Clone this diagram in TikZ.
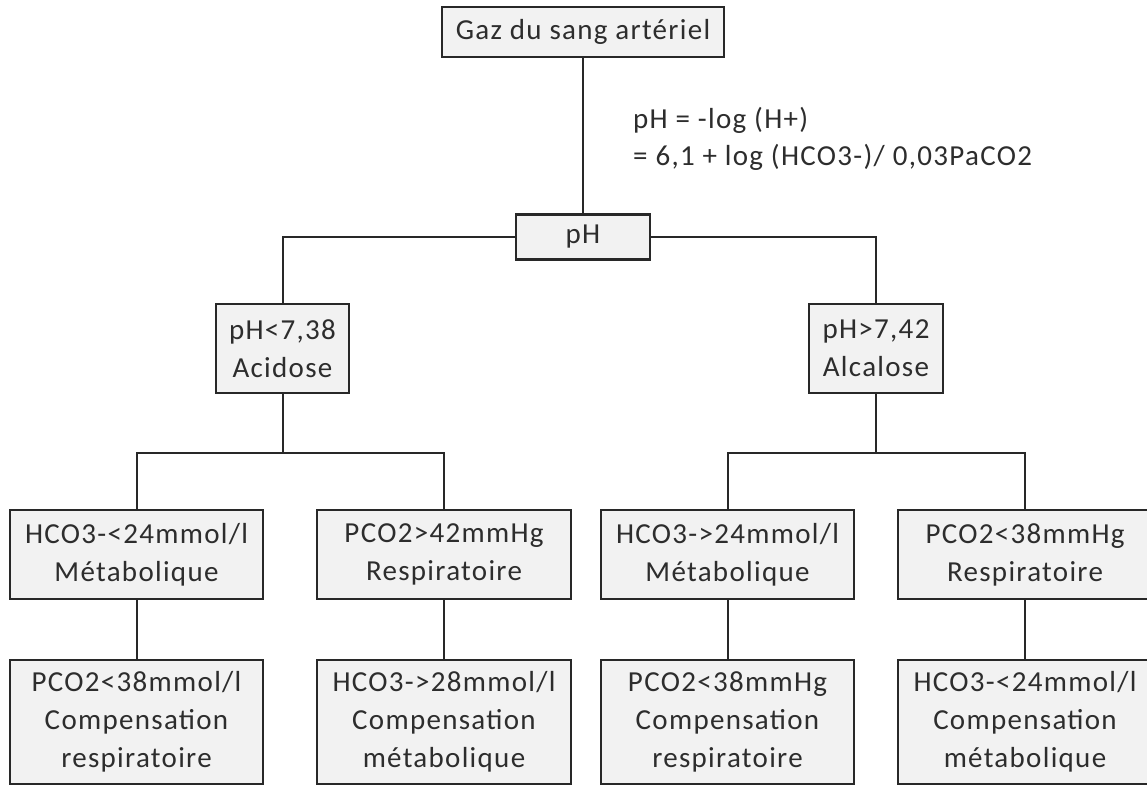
\documentclass[tikz,border=0pt]{standalone}
\usepackage{fontspec}
\setmainfont{Carlito}[LetterSpace=4.5]
\definecolor{boxfill}{RGB}{242,242,242}
\definecolor{ink}{RGB}{45,45,45}
\definecolor{edge}{RGB}{40,40,40}
\tikzset{
  box/.style={draw=edge, line width=2.2pt, fill=boxfill, text=ink, inner sep=0pt,
    align=center, font=\fontsize{29}{38}\selectfont},
  link/.style={draw=edge, line width=2pt},
  note/.style={text=ink, inner sep=0pt, align=left, anchor=west,
    font=\fontsize{29}{37}\selectfont}
}
\begin{document}
\begin{tikzpicture}[x=1pt,y=-1pt]
\useasboundingbox (0,0) rectangle (1147,787);

% root and pH
\node[box, minimum width=282pt, minimum height=50pt] (gaz) at (583,32) {Gaz du sang artériel};
\node[box, minimum width=134pt, minimum height=45pt] (ph) at (583,237) {pH};
\node[note] (formule) at (633,139) {pH = -log (H+)\\= 6,1 + log (HCO3-)/ 0,03PaCO2};

% acidose / alcalose
\node[box, minimum width=133pt, minimum height=89pt] (acid) at (282.5,348.5) {pH<7,38\\Acidose};
\node[box, minimum width=134pt, minimum height=89pt] (alc) at (876,348.5) {pH>7,42\\Alcalose};

% type of disorder
\node[box, minimum width=253pt, minimum height=89pt] (b1) at (136.5,554.5) {HCO3-<24mmol/l\\Métabolique};
\node[box, minimum width=254pt, minimum height=89pt] (b2) at (444,554.5) {PCO2>42mmHg\\Respiratoire};
\node[box, minimum width=253pt, minimum height=89pt] (b3) at (727.5,554.5) {HCO3->24mmol/l\\Métabolique};
\node[box, minimum width=254pt, minimum height=89pt] (b4) at (1025,554.5) {PCO2<38mmHg\\Respiratoire};

% compensation
\node[box, minimum width=253pt, minimum height=124pt] (c1) at (136.5,722) {PCO2<38mmol/l\\Compensation\\respiratoire};
\node[box, minimum width=254pt, minimum height=124pt] (c2) at (444,722) {HCO3->28mmol/l\\Compensation\\métabolique};
\node[box, minimum width=253pt, minimum height=124pt] (c3) at (727.5,722) {PCO2<38mmHg\\Compensation\\respiratoire};
\node[box, minimum width=254pt, minimum height=124pt] (c4) at (1025,722) {HCO3-<24mmol/l\\Compensation\\métabolique};

% junctions of the lower branches
\coordinate (ja) at (282.5,453);
\coordinate (jb) at (876,453);

% connectors
\draw[link] (gaz.south) -- (ph.north);
\draw[link] (ph.west) -| (acid.north);
\draw[link] (ph.east) -| (alc.north);
\draw[link] (acid.south) -- (ja);
\draw[link] (ja) -| (b1.north);
\draw[link] (ja) -| (b2.north);
\draw[link] (alc.south) -- (jb);
\draw[link] (jb) -| (b3.north);
\draw[link] (jb) -| (b4.north);
\draw[link] (b1.south) -- (c1.north);
\draw[link] (b2.south) -- (c2.north);
\draw[link] (b3.south) -- (c3.north);
\draw[link] (b4.south) -- (c4.north);
\end{tikzpicture}
\end{document}
